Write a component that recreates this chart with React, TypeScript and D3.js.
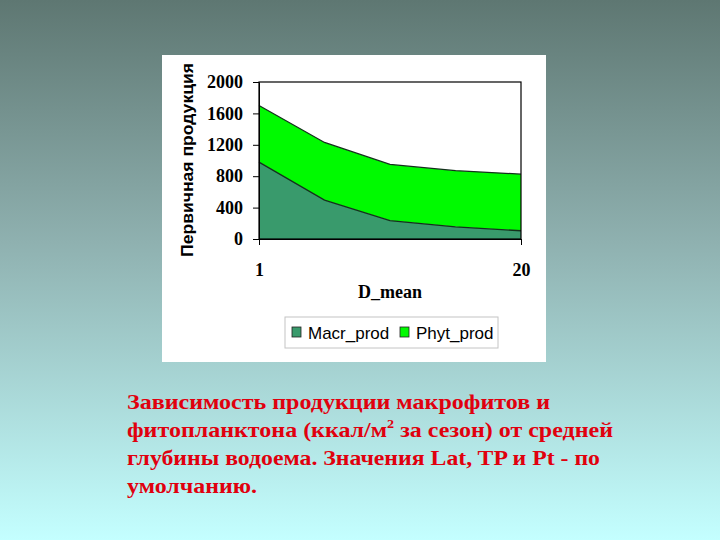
import * as d3 from 'd3';
import React, { useRef, useEffect } from 'react';

// depth categories on the x axis (only first and last are labelled)
const depthCats = ['1', '2', '5', '10', '20'];
const xTickLabels = ['1', '20'];
const macrProd = [980, 495, 235, 155, 105];
const phytProd = [720, 735, 715, 715, 721];
const yTicks = [0, 400, 800, 1200, 1600, 2000];
const seriesNames = ['Macr_prod', 'Phyt_prod'];
const captionLines = [
    'Зависимость продукции макрофитов и',
    'фитопланктона (ккал/м|2| за сезон) от средней',
    'глубины водоема. Значения Lat, TP и Pt - по',
    'умолчанию.',
];

function App() {
    const ref = useRef<SVGSVGElement>(null);

    useEffect(() => {
        draw();
    }, []);

    const draw = () => {
        const W = 720, H = 540;
        const plot = { left: 259, right: 521, top: 82, bottom: 239 };
        const serif = '"Liberation Serif", "Times New Roman", serif';
        const sans = '"Liberation Sans", Arial, sans-serif';
        // caption line widths measured from the slide
        const captionWidths = [423, 486, 473, 130];

        const svg = d3.select(ref.current);
        svg.selectAll('*').remove();

        // background gradient
        const grad = svg.append('defs').append('linearGradient')
            .attr('id', 'bg').attr('x1', 0).attr('y1', 0).attr('x2', 0).attr('y2', 1);
        grad.append('stop').attr('offset', '0%').attr('stop-color', '#5e7772');
        grad.append('stop').attr('offset', '45%').attr('stop-color', '#8fb1b0');
        grad.append('stop').attr('offset', '100%').attr('stop-color', '#c4ffff');
        svg.append('rect').attr('width', W).attr('height', H).attr('fill', 'url(#bg)');

        // white chart panel
        svg.append('rect')
            .attr('x', 162).attr('y', 55).attr('width', 384).attr('height', 307)
            .attr('fill', '#ffffff');

        // Scale
        const xScale = d3.scalePoint()
            .domain(depthCats)
            .range([plot.left, plot.right]);
        const yScale = d3.scaleLinear()
            .domain([0, 2000])
            .range([plot.bottom, plot.top]);

        const rows = depthCats.map((c, i) => ({ c, macr: macrProd[i], phyt: phytProd[i] }));
        const stack = d3.stack<any>().keys(['macr', 'phyt'])(rows);
        const colors = ['#399a6c', '#00fa00'];

        const area = d3.area<any>()
            .x((d, i) => xScale(depthCats[i]) as number)
            .y0(d => yScale(d[0]))
            .y1(d => yScale(d[1]));
        const topLine = d3.line<any>()
            .x((d, i) => xScale(depthCats[i]) as number)
            .y(d => yScale(d[1]));

        stack.forEach((s, k) => {
            svg.append('path').attr('d', area(s) as string).attr('fill', colors[k]);
        });
        stack.forEach((s) => {
            svg.append('path').attr('d', topLine(s) as string)
                .attr('fill', 'none').attr('stroke', '#14301c').attr('stroke-width', 1.3);
        });

        // plot frame
        svg.append('rect')
            .attr('x', plot.left).attr('y', plot.top)
            .attr('width', plot.right - plot.left).attr('height', plot.bottom - plot.top)
            .attr('fill', 'none').attr('stroke', '#000').attr('stroke-width', 1.2);

        // DRAW AXES
        const yAxis = d3.axisLeft(yScale).tickValues(yTicks).tickFormat(d3.format('d'))
            .tickSize(6).tickPadding(10).tickSizeOuter(0);
        const yG = svg.append('g').attr('transform', `translate(${plot.left},0)`).call(yAxis);
        yG.select('.domain').attr('stroke', '#000');
        yG.selectAll('text')
            .attr('font-family', serif).attr('font-weight', 'bold')
            .attr('font-size', 18).attr('fill', '#000');

        const xAxis = d3.axisBottom(xScale)
            .tickValues(xTickLabels).tickSize(6).tickPadding(18).tickSizeOuter(0);
        const xG = svg.append('g').attr('transform', `translate(0,${plot.bottom})`).call(xAxis);
        xG.select('.domain').attr('stroke', '#000');
        xG.selectAll('text')
            .attr('font-family', serif).attr('font-weight', 'bold')
            .attr('font-size', 18).attr('fill', '#000');

        // axis titles
        svg.append('text')
            .attr('x', (plot.left + plot.right) / 2).attr('y', 298)
            .attr('text-anchor', 'middle')
            .attr('font-family', serif).attr('font-weight', 'bold').attr('font-size', 18)
            .text('D_mean');

        svg.append('text')
            .attr('transform', `translate(193,160) rotate(-90)`)
            .attr('text-anchor', 'middle')
            .attr('font-family', sans).attr('font-weight', 'bold').attr('font-size', 17)
            .attr('textLength', 194).attr('lengthAdjust', 'spacingAndGlyphs')
            .text('Первичная продукция');

        // legend
        svg.append('rect')
            .attr('x', 285).attr('y', 317).attr('width', 213).attr('height', 31)
            .attr('fill', '#fff').attr('stroke', '#c4c4c4');
        const legendX = [292, 400];
        seriesNames.forEach((name, k) => {
            svg.append('rect')
                .attr('x', legendX[k]).attr('y', 327).attr('width', 9).attr('height', 10)
                .attr('fill', colors[k]).attr('stroke', '#222').attr('stroke-width', 0.8);
            svg.append('text')
                .attr('x', legendX[k] + 16).attr('y', 339)
                .attr('font-family', sans).attr('font-size', 17)
                .text(name);
        });

        // caption
        captionLines.forEach((line, i) => {
            const t = svg.append('text')
                .attr('x', 127).attr('y', 409 + i * 28)
                .attr('font-family', serif).attr('font-weight', 'bold')
                .attr('font-size', 22).attr('fill', '#e0000e')
                .attr('textLength', captionWidths[i]).attr('lengthAdjust', 'spacingAndGlyphs');
            line.split('|').forEach((part, j) => {
                const sp = t.append('tspan').text(part);
                if (j === 1) sp.attr('font-size', 13).attr('dy', -9);
                if (j === 2) sp.attr('dy', 9);
            });
        });
    };

    return (
        <svg ref={ref} width={720} height={540}
            style={{ position: 'absolute', left: 0, top: 0, display: 'block' }} />
    );
}

export default App;
